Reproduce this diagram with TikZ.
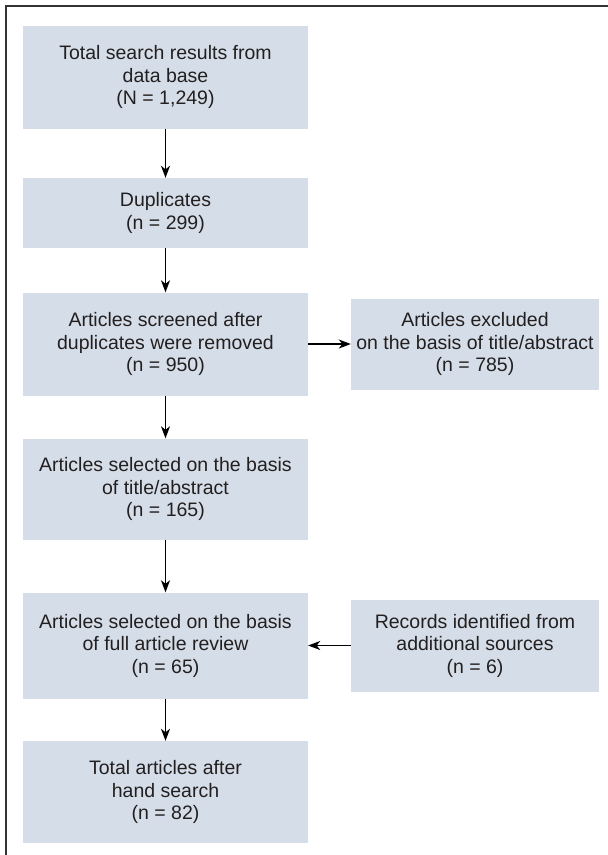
\documentclass[tikz,border=0pt]{standalone}
\usepackage{fontspec}
\setmainfont{Liberation Sans}
\usetikzlibrary{arrows.meta}
\definecolor{boxfill}{HTML}{D5DEE8}
\definecolor{inkgray}{HTML}{231F20}

\begin{document}
\begin{tikzpicture}[x=1pt,y=-1pt,
    flowbox/.style={fill=boxfill,inner sep=0pt,align=center,text=inkgray,
      font=\fontsize{19.5}{22.5}\selectfont},
    leftbox/.style={flowbox,minimum width=285pt},
    rightbox/.style={flowbox,minimum width=248pt},
    flowarrow/.style={-{Stealth[length=12pt,width=9pt,inset=3.5pt]},line width=1.3pt}]
    \useasboundingbox (0,0) rectangle (608,855);
    \draw[line width=2pt,black!80] (608,6) -- (6,6) -- (6,855);
    % left column
    \node[leftbox,minimum height=103pt] (search) at (165.5,77) {Total search results from\\data base\\(N = 1,249)};
    \node[leftbox,minimum height=70pt] (dups) at (165.5,213) {Duplicates\\(n = 299)};
    \node[leftbox,minimum height=103pt] (screened) at (165.5,344) {Articles screened after\\duplicates were removed\\(n = 950)};
    \node[leftbox,minimum height=101pt] (selected) at (165.5,489) {Articles selected on the basis\\of title/abstract\\(n = 165)};
    \node[leftbox,minimum height=106pt] (fullrev) at (165.5,645.5) {Articles selected on the basis\\of full article review\\(n = 65)};
    \node[leftbox,minimum height=102pt] (total) at (165.5,792) {Total articles after\\hand search\\(n = 82)};
    % right column
    \node[rightbox,minimum height=91pt] (excluded) at (475,344) {Articles excluded\\on the basis of title/abstract\\(n = 785)};
    \node[rightbox,minimum height=92pt] (records) at (475,645.5) {Records identified from\\additional sources\\(n = 6)};
    % connectors
    \foreach \a/\b in {search/dups,dups/screened,screened/selected,selected/fullrev,fullrev/total,screened/excluded,records/fullrev}{
      \draw[flowarrow] (\a) -- (\b);
    }
\end{tikzpicture}
\end{document}
